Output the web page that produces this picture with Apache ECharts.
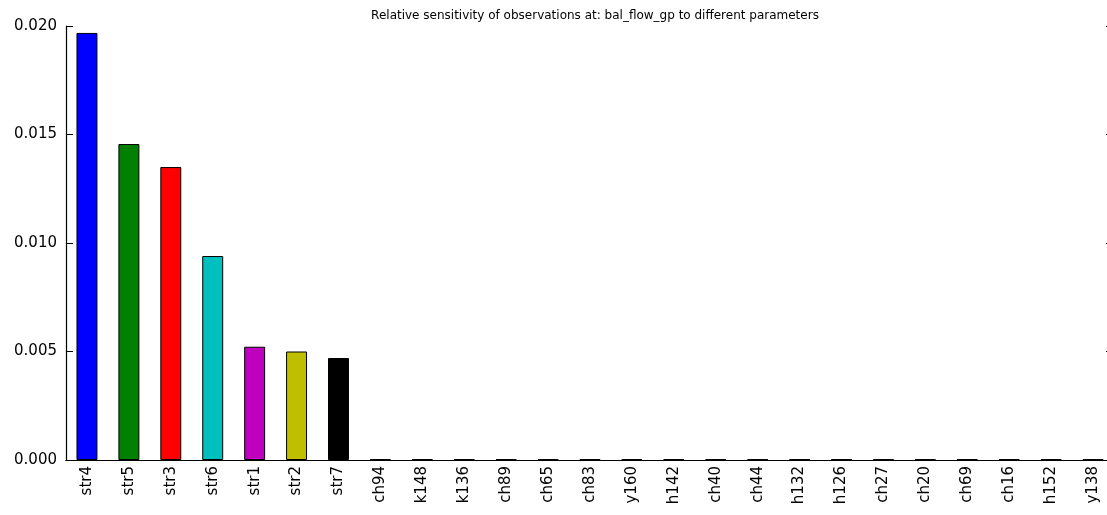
<!DOCTYPE html>
<html>
<head>
<meta charset="utf-8">
<script src="https://cdn.jsdelivr.net/npm/echarts@6/dist/echarts.min.js"></script>
<style>html,body{margin:0;padding:0;background:#fff;}#c{width:1107px;height:515px;}</style>
</head>
<body>
<div id="c"></div>
<script>
const categories = ['str4','str5','str3','str6','str1','str2','str7','ch94','k148','k136','ch89','ch65','ch83','y160','h142','ch40','ch44','h132','h126','ch27','ch20','ch69','ch16','h152','y138'];
const values = [0.01968,0.01456,0.01350,0.00940,0.00522,0.00500,0.00470,0.00004,0.00003,0.00003,0.00003,0.00003,0.00003,0.00003,0.00003,0.00003,0.00003,0.00003,0.00003,0.00003,0.00003,0.00003,0.00003,0.00003,0.00003];
const colorCycle = ['#0000ff','#007f00','#ff0000','#00bfbf','#bf00bf','#bfbf00','#000000'];
const yTicks = [0, 0.005, 0.010, 0.015, 0.020];
const titleText = 'Relative sensitivity of observations at: bal_flow_gp to different parameters';

const chart = echarts.init(document.getElementById('c'));
const font = 'DejaVu Sans';
chart.setOption({
  animation: false,
  backgroundColor: '#ffffff',
  title: {
    text: titleText, left: 590, top: 5, textAlign: 'center',
    textStyle: {fontFamily: font, fontSize: 12, fontWeight: 'normal', color: '#000'}
  },
  grid: {left: 66, top: 26, width: 1048, height: 434, containLabel: false, outerBoundsMode: 'none'},
  xAxis: [{
    type: 'category', data: categories, position: 'bottom',
    axisLine: {lineStyle: {color: '#000', width: 1.2}},
    axisTick: {inside: true, length: 7, alignWithLabel: true, lineStyle: {color: '#000'}},
    axisLabel: {rotate: 90, interval: 0, margin: 6, fontFamily: font, fontSize: 15, color: '#000'}
  }, {
    type: 'category', data: categories, position: 'top',
    axisLine: {show: true, lineStyle: {color: '#000', width: 1.2}},
    axisTick: {inside: true, length: 7, alignWithLabel: true, lineStyle: {color: '#000'}},
    axisLabel: {show: false}
  }],
  yAxis: [{
    type: 'value', min: yTicks[0], max: yTicks[yTicks.length-1], interval: 0.005, position: 'left',
    axisLine: {show: true, lineStyle: {color: '#000', width: 1.2}},
    axisTick: {show: true, inside: true, length: 7, lineStyle: {color: '#000'}},
    splitLine: {show: false},
    axisLabel: {margin: 9, fontFamily: font, fontSize: 15, color: '#000', formatter: v => v.toFixed(3)}
  }, {
    type: 'value', min: yTicks[0], max: yTicks[yTicks.length-1], interval: 0.005, position: 'right',
    axisLine: {show: true, lineStyle: {color: '#000', width: 1.2}},
    axisTick: {show: true, inside: true, length: 8, lineStyle: {color: '#000'}},
    splitLine: {show: false},
    axisLabel: {show: false}
  }],
  series: [{
    type: 'bar', xAxisIndex: 0, yAxisIndex: 0, barWidth: '50%',
    data: values.map((v, i) => ({value: v, itemStyle: {color: colorCycle[i % colorCycle.length]}})),
    itemStyle: {borderColor: '#000', borderWidth: 1}
  }]
});
</script>
</body>
</html>
